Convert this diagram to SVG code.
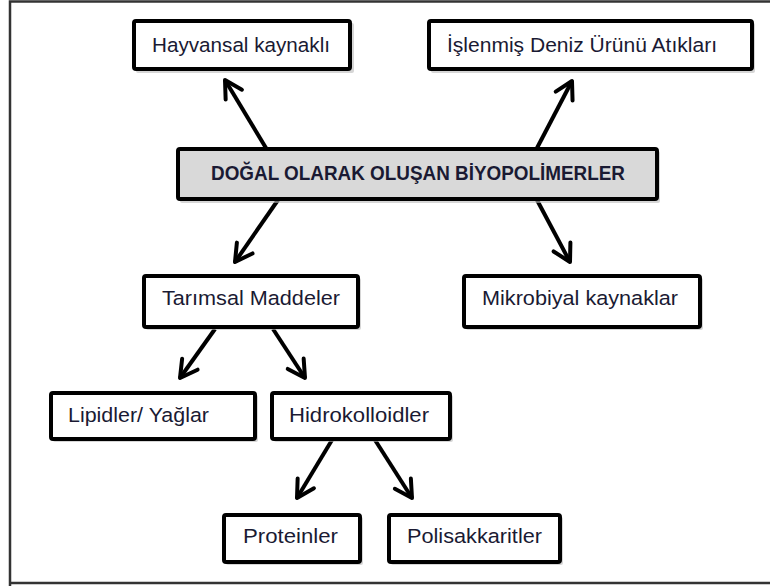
<svg xmlns="http://www.w3.org/2000/svg" width="770" height="587" viewBox="0 0 770 587">
<style>
.box{fill:#fff;stroke:#000;stroke-width:4}
.main{fill:#d9d9d9;stroke:#000;stroke-width:4}
.sh{fill:#bbb;opacity:.6}
.t{font-family:"Liberation Sans",Arial,sans-serif;font-size:20.5px;fill:#1a1a33}
.tb{font-family:"Liberation Sans",Arial,sans-serif;font-size:20px;font-weight:bold;fill:#1a1a33}
.c{stroke:#000;stroke-width:4;fill:none}
</style>
<defs>
<marker id="ah" markerUnits="userSpaceOnUse" viewBox="-22 -13 26 26" refX="0" refY="0" markerWidth="26" markerHeight="26" orient="auto">
<path d="M-17,-9.5 L0,0 L-17,9.5" fill="none" stroke="#000" stroke-width="4" stroke-linejoin="round" stroke-linecap="round"/>
</marker>
</defs>
<rect x="0" y="0" width="770" height="587" fill="#fff"/>
<path d="M10,586 L10,1.5 L772,1.5 M10,583 L772,583" fill="none" stroke="#333" stroke-width="2.5"/>

<g id="connectors">
<line class="c" x1="266" y1="148" x2="225" y2="80" marker-end="url(#ah)"/>
<line class="c" x1="537" y1="148" x2="572" y2="81" marker-end="url(#ah)"/>
<line class="c" x1="278" y1="200" x2="235" y2="262" marker-end="url(#ah)"/>
<line class="c" x1="537" y1="200" x2="570" y2="262" marker-end="url(#ah)"/>
<line class="c" x1="215" y1="329" x2="180" y2="378" marker-end="url(#ah)"/>
<line class="c" x1="273" y1="329" x2="305" y2="378" marker-end="url(#ah)"/>
<line class="c" x1="332" y1="440" x2="297" y2="498" marker-end="url(#ah)"/>
<line class="c" x1="375" y1="440" x2="412" y2="498" marker-end="url(#ah)"/>
</g>

<g id="hayvansal">
<rect class="sh" x="136" y="23" width="218" height="50" rx="2"/>
<rect class="box" x="134" y="21" width="216" height="48" rx="2"/>
<text class="t" x="241" y="52" text-anchor="middle" textLength="178" lengthAdjust="spacingAndGlyphs">Hayvansal kaynaklı</text>
</g>

<g id="islenmis">
<rect class="sh" x="431" y="23" width="324" height="50" rx="2"/>
<rect class="box" x="429" y="21" width="323" height="48" rx="2"/>
<text class="t" x="582" y="52" text-anchor="middle" textLength="270" lengthAdjust="spacingAndGlyphs">İşlenmiş Deniz Ürünü Atıkları</text>
</g>

<g id="dogal">
<rect class="sh" x="180" y="151" width="480" height="52" rx="2"/>
<rect class="main" x="178" y="149" width="479" height="50" rx="2"/>
<text class="tb" x="418" y="180" text-anchor="middle" textLength="414" lengthAdjust="spacingAndGlyphs">DOĞAL OLARAK OLUŞAN BİYOPOLİMERLER</text>
</g>

<g id="tarimsal">
<rect class="sh" x="146" y="278" width="215" height="52" rx="2"/>
<rect class="box" x="144" y="276" width="214" height="51" rx="2"/>
<text class="t" x="251" y="305" text-anchor="middle" textLength="178" lengthAdjust="spacingAndGlyphs">Tarımsal Maddeler</text>
</g>

<g id="mikrobiyal">
<rect class="sh" x="466" y="278" width="237" height="52" rx="2"/>
<rect class="box" x="464" y="276" width="236" height="51" rx="2"/>
<text class="t" x="580" y="305" text-anchor="middle" textLength="196" lengthAdjust="spacingAndGlyphs">Mikrobiyal kaynaklar</text>
</g>

<g id="lipidler">
<rect class="sh" x="53" y="395" width="205" height="47" rx="2"/>
<rect class="box" x="51" y="393" width="204" height="46" rx="2"/>
<text class="t" x="138.5" y="422" text-anchor="middle" textLength="141" lengthAdjust="spacingAndGlyphs">Lipidler/ Yağlar</text>
</g>

<g id="hidrokolloidler">
<rect class="sh" x="274" y="395" width="179" height="47" rx="2"/>
<rect class="box" x="272" y="393" width="178" height="46" rx="2"/>
<text class="t" x="359" y="422" text-anchor="middle" textLength="140" lengthAdjust="spacingAndGlyphs">Hidrokolloidler</text>
</g>

<g id="proteinler">
<rect class="sh" x="226" y="517" width="137" height="48" rx="2"/>
<rect class="box" x="224" y="515" width="136" height="47" rx="2"/>
<text class="t" x="290.5" y="543" text-anchor="middle" textLength="95" lengthAdjust="spacingAndGlyphs">Proteinler</text>
</g>

<g id="polisakkaritler">
<rect class="sh" x="391" y="517" width="172" height="48" rx="2"/>
<rect class="box" x="389" y="515" width="171" height="47" rx="2"/>
<text class="t" x="474.5" y="543" text-anchor="middle" textLength="135" lengthAdjust="spacingAndGlyphs">Polisakkaritler</text>
</g>
</svg>
